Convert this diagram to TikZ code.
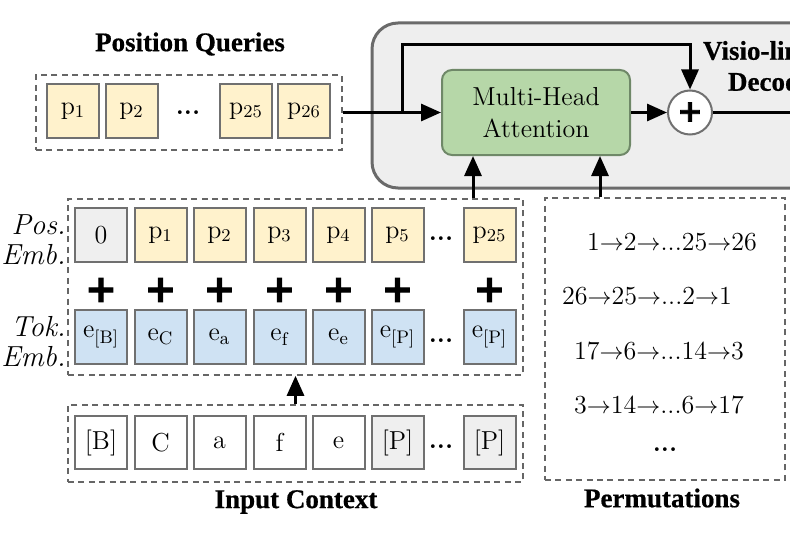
\documentclass[tikz,border=0pt]{standalone}
\usepackage{fontspec}
\usetikzlibrary{arrows.meta,calc}
\newfontfamily\plusfont{DejaVu Sans}[FakeBold=2.5]
\newfontfamily\ttlfont{Liberation Serif}[FakeBold=0.6]
\definecolor{qyellow}{HTML}{FFF2CC}
\definecolor{qblue}{HTML}{CFE2F3}
\definecolor{qgray}{HTML}{EFEFEF}
\definecolor{qgreen}{HTML}{B6D7A8}
\definecolor{greenborder}{HTML}{6F8868}
\definecolor{cellborder}{HTML}{707070}
\definecolor{dashgray}{HTML}{666666}
\definecolor{decfill}{HTML}{EEEEEE}
\definecolor{decborder}{HTML}{6A6A6A}
\newcommand\mainfs{\fontsize{13}{15.5}\selectfont}
\newcommand\ttlfs{\ttlfont\bfseries\fontsize{13.5}{16}\selectfont}
\newcommand\dotsfs{\fontsize{13}{15.5}\selectfont\bfseries\addfontfeatures{FakeBold=2}}
\begin{document}
\begin{tikzpicture}[x=0.5pt,y=-0.5pt,
  every node/.style={font=\mainfs},
  cell/.style={draw=cellborder, line width=1pt, minimum width=26pt, minimum height=27pt, inner sep=0pt},
  ycell/.style={cell, fill=qyellow},
  bcell/.style={cell, fill=qblue},
  gcell/.style={cell, fill=qgray},
  wcell/.style={cell, fill=white},
  icell/.style={minimum height=26.5pt},
  dashbox/.style={draw=dashgray, line width=0.8pt, dash pattern=on 3pt off 2.2pt, inner sep=0pt},
  arr/.style={line width=1.5pt, -{Triangle[length=10pt,width=8.5pt]}},
  conn/.style={line width=1.5pt},
  bolddots/.style={font=\dotsfs, inner sep=0pt},
  plussign/.style={font=\plusfont\bfseries\fontsize{19}{20}\selectfont, inner sep=0pt},
  ttl/.style={font=\ttlfs, inner sep=0pt, align=center},
  lbl/.style={font=\fontsize{14.5}{15}\selectfont\itshape, align=right, anchor=east, inner sep=0pt}
]
\useasboundingbox (0,0) rectangle (790,540);
\clip (0,0) rectangle (790,540);

% ---------- decoder ----------
\node[draw=decborder, fill=decfill, line width=1.5pt, rounded corners=13pt,
      minimum width=234pt, minimum height=82.5pt, inner sep=0pt] (dec) at (606,105.5) {};
\node[ttl] (dectitle) at (776,66) {Visio-lingual\\[-0.5pt]Decoder};
\node[draw=greenborder, fill=qgreen, line width=1pt, rounded corners=5pt,
      minimum width=94pt, minimum height=42.5pt, inner sep=0pt, align=center,
      font=\fontsize{13}{16}\selectfont] (mha) at (536,112.5) {Multi-Head\\Attention};
\node[draw=cellborder, fill=white, line width=1pt, circle, minimum size=22pt, inner sep=0pt] (plus) at (690,112.5) {};
\node[font=\plusfont\bfseries\fontsize{15}{16}\selectfont, inner sep=0pt] (plusglyph) at (690,112) {+};

% ---------- position queries ----------
\node[ttl] (pqtitle) at (190,44) {Position Queries};
\node[dashbox, minimum width=153pt, minimum height=37.5pt] (pq) at (189,112.5) {};
\node[ycell] (q1) at (73,111) {$\mathrm{p}_{1}$};
\node[ycell] (q2) at (131.5,111) {$\mathrm{p}_{2}$};
\node[bolddots] (qd) at (188,113) {...};
\node[ycell] (q25) at (246,111) {$\mathrm{p}_{25}$};
\node[ycell] (q26) at (304,111) {$\mathrm{p}_{26}$};

% ---------- embeddings ----------
\node[dashbox, minimum width=227.5pt, minimum height=88pt] (emb) at (295.5,287) {};
\node[lbl] (poslbl) at (66,240) {Pos.\\Emb.};
\node[lbl] (toklbl) at (66,342) {Tok.\\Emb.};

\node[gcell] (pe0) at (101,235) {0};
\node[ycell] (pe1) at (160.5,235) {$\mathrm{p}_{1}$};
\node[ycell] (pe2) at (219.5,235) {$\mathrm{p}_{2}$};
\node[ycell] (pe3) at (279.5,235) {$\mathrm{p}_{3}$};
\node[ycell] (pe4) at (338.5,235) {$\mathrm{p}_{4}$};
\node[ycell] (pe5) at (397.5,235) {$\mathrm{p}_{5}$};
\node[bolddots] (ped) at (441,239) {...};
\node[ycell] (pe25) at (489.5,235) {$\mathrm{p}_{25}$};

\foreach \x [count=\i] in {101,160.5,219.5,279.5,338.5,397.5,489.5}
  \node[plussign] (pl\i) at (\x,290) {+};

\node[bcell] (te1) at (101,337) {$\mathrm{e}_{\mathrm{[B]}}$};
\node[bcell] (te2) at (160.5,337) {$\mathrm{e}_{\mathrm{C}}$};
\node[bcell] (te3) at (219.5,337) {$\mathrm{e}_{\mathrm{a}}$};
\node[bcell] (te4) at (279.5,337) {$\mathrm{e}_{\mathrm{f}}$};
\node[bcell] (te5) at (338.5,337) {$\mathrm{e}_{\mathrm{e}}$};
\node[bcell] (te6) at (397.5,337) {$\mathrm{e}_{\mathrm{[P]}}$};
\node[bolddots] (ted) at (441,341) {...};
\node[bcell] (te7) at (489.5,337) {$\mathrm{e}_{\mathrm{[P]}}$};

% ---------- input context ----------
\node[dashbox, minimum width=227.5pt, minimum height=38.5pt] (inbox) at (295.5,443.5) {};
\node[wcell, icell] (in1) at (101,442.5) {[B]};
\node[wcell, icell] (in2) at (160.5,442.5) {C};
\node[wcell, icell] (in3) at (219.5,442.5) {a};
\node[wcell, icell] (in4) at (279.5,442.5) {f};
\node[wcell, icell] (in5) at (338.5,442.5) {e};
\node[gcell, icell] (in6) at (397.5,442.5) {[P]};
\node[bolddots] (ind) at (441,447) {...};
\node[gcell, icell] (in7) at (489.5,442.5) {[P]};
\node[ttl] (intitle) at (296,502) {Input Context};

% ---------- permutations ----------
\node[dashbox, minimum width=120pt, minimum height=141pt] (perm) at (665,339) {};
\node (pm1) at (672,242) {1$\rightarrow$2$\rightarrow$...25$\rightarrow$26};
\node (pm2) at (647,296) {26$\rightarrow$25$\rightarrow$...2$\rightarrow$1};
\node (pm3) at (659,351) {17$\rightarrow$6$\rightarrow$...14$\rightarrow$3};
\node (pm4) at (659,405) {3$\rightarrow$14$\rightarrow$...6$\rightarrow$17};
\node[bolddots] (pm5) at (665,450) {...};
\node[ttl] (permtitle) at (662,498) {Permutations};

% ---------- connectors ----------
\coordinate (br) at (402,112.5);
\coordinate (brtop) at (402,45);
\coordinate (c1) at (473,0);
\coordinate (c2) at (600,0);
\coordinate (outend) at (800,112.5);
\draw[arr] (pq.east) -- (mha.west);
\draw[arr] (br) -- (brtop) -| (plus.north);
\draw[arr] (mha.east) -- (plus.west);
\draw[conn] (plus.east) -- (outend);
\draw[arr] (emb.north -| c1) -- (mha.south -| c1);
\draw[arr] (perm.north -| c2) -- (mha.south -| c2);
\draw[arr] (inbox.north) -- (emb.south);
\end{tikzpicture}
\end{document}
